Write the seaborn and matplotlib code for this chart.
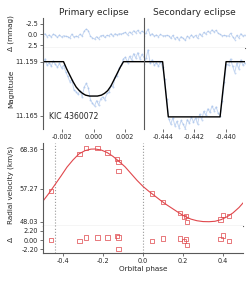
import numpy as np
import matplotlib
matplotlib.use("Agg")
import matplotlib.pyplot as plt
from matplotlib.ticker import FormatStrFormatter
import seaborn as sns

# ---- light curve: primary eclipse (mmag relative to 11.159) ----
prim_phase = np.linspace(-0.0032, 0.0032, 50)
prim_dmag = [0.2, -0.3, 0.4, 0.1, 0.5, -0.1, 0.3, 0.6, 0.2, 0.7,
             0.4, 1.1, 1.6, 2.2, 2.0, 3.1, 3.3, 3.6, 3.2, 3.9,
             2.8, 2.4, 2.9, 4.2, 4.6, 4.9, 4.3, 4.8, 4.1, 3.9,
             4.2, 3.5, 3.4, 2.6, 2.8, 1.7, 1.6, 0.7, 0.4, -0.3,
             -0.5, 0.1, -0.6, -0.2, -0.9, -0.4, -1.0, -0.3, -0.8, -0.5]
prim_resid = [0.3, -0.2, 0.5, 0.1, 0.6, -0.1, 0.2, 0.7, 0.1, 0.6,
              0.3, 0.4, 0.5, 0.8, -0.1, 0.6, 0.4, 0.5, -0.1, 0.4,
              -0.8, -1.3, -0.9, 0.4, 0.8, 1.1, 0.5, 1.0, 0.3, 0.2,
              0.7, 0.2, 0.3, -0.2, 0.4, -0.2, 0.1, -0.2, -0.1, -0.3,
              -0.5, 0.1, -0.6, -0.2, -0.9, -0.4, -1.0, -0.3, -0.8, -0.5]
prim_model_phase = [-0.0032, -0.0019, -0.0017, -0.0015, -0.0013, -0.0011,
                    -0.0009, -0.0007, -0.0005, -0.00025, 0.0, 0.00025,
                    0.0005, 0.0007, 0.0009, 0.0011, 0.0013, 0.0015,
                    0.0017, 0.0019, 0.0032]
prim_model_mag = [11.1590, 11.1590, 11.1598, 11.1605, 11.1612, 11.1618,
                  11.1622, 11.1625, 11.1627, 11.1628, 11.1628, 11.1628,
                  11.1627, 11.1625, 11.1622, 11.1617, 11.1610, 11.1603,
                  11.1596, 11.1590, 11.1590]

# ---- light curve: secondary eclipse ----
sec_phase = np.linspace(-0.4452, -0.4388, 50)
sec_dmag = [0.3, -0.4, -1.3, 0.2, -0.2, 0.4, 0.1, 0.5, 0.0, 0.6,
            1.9, 4.1, 6.3, 6.9, 6.2, 7.1, 6.6, 7.3, 6.5, 6.9,
            7.4, 6.4, 6.8, 6.1, 6.7, 6.2, 6.9, 5.8, 6.4, 5.5,
            5.9, 5.2, 5.6, 4.9, 5.4, 5.0, 5.7, 6.0, 4.3, 2.2,
            0.3, 0.4, -0.3, 0.5, 1.2, 0.2, 0.8, -0.2, 0.4, 0.1]
sec_resid = [0.3, -0.4, -1.3, 0.2, -0.2, 0.4, 0.1, 0.5, 0.0, 0.3,
             0.3, 0.2, 0.3, 0.9, 0.2, 1.1, 0.6, 1.3, 0.5, 0.9,
             1.4, 0.4, 0.8, 0.1, 0.7, 0.2, 0.9, -0.2, 0.4, -0.5,
             -0.1, -0.8, -0.4, -1.1, -0.6, -1.0, -0.3, 0.0, 0.3, 0.2,
             0.3, 0.4, -0.3, 0.5, 1.2, 0.2, 0.8, -0.2, 0.4, 0.1]
sec_model_phase = [-0.4452, -0.44402, -0.44366, -0.44038, -0.44000, -0.4388]
sec_model_mag = [11.1590, 11.1590, 11.1651, 11.1651, 11.1590, 11.1590]

# ---- radial velocities ----
rv_phase = [-0.459, -0.317, -0.286, -0.228, -0.177, -0.129, -0.122, -0.122,
            0.044, 0.099, 0.186, 0.206, 0.216, 0.220, 0.387, 0.401, 0.429]
rv_value = [56.70, 66.96, 68.64, 68.64, 67.33, 65.65, 64.72, 62.29,
            55.97, 53.62, 50.55, 49.43, 49.62, 48.03, 48.70, 49.99, 49.62]
rv_resid = [0.00, -0.17, 0.55, 0.55, 0.55, 0.95, 0.55, -2.07,
            -0.17, 0.40, 0.40, -0.17, 0.24, -1.12, 0.17, 1.02, -0.17]
rv_model_phase = [-0.50, -0.47, -0.44, -0.41, -0.38, -0.35, -0.32, -0.29,
                  -0.26, -0.24, -0.21, -0.18, -0.15, -0.12, -0.09, -0.06,
                  -0.03, 0.00, 0.03, 0.06, 0.09, 0.12, 0.15, 0.18, 0.21,
                  0.24, 0.27, 0.30, 0.33, 0.36, 0.39, 0.42, 0.45, 0.48, 0.51]
rv_model_value = [53.8, 56.0, 58.4, 60.8, 63.3, 65.3, 67.0, 67.9,
                  68.33, 68.36, 68.1, 67.4, 66.3, 64.9, 63.4, 61.5,
                  59.6, 57.9, 56.5, 55.2, 53.9, 52.7, 51.6, 50.5, 49.5,
                  48.75, 48.3, 48.07, 48.03, 48.15, 48.6, 49.4, 50.5, 52.0, 53.9]

eclipse_phases = [-0.442, 0.0]

sns.set_style("ticks")
plt.rcParams["font.family"] = ["DejaVu Sans"]

LC = "#9dbbe8"
RED = "#e0474c"
SPINE = "0.35"

fig = plt.figure(figsize=(2.49, 2.82), dpi=100)
W, H = 249.0, 282.0


def box(x0, y0, x1, y1):
    return [x0 / W, 1 - y1 / H, (x1 - x0) / W, (y1 - y0) / H]


ax_pr = fig.add_axes(box(43, 18, 144, 48))
ax_sr = fig.add_axes(box(144, 18, 245, 48))
ax_pm = fig.add_axes(box(43, 48, 144, 129))
ax_sm = fig.add_axes(box(144, 48, 245, 129))
ax_rv = fig.add_axes(box(43, 143, 243, 226))
ax_rr = fig.add_axes(box(43, 226, 243, 253))

prim_mag = 11.159 + np.array(prim_dmag) / 1000.0
sec_mag = 11.159 + np.array(sec_dmag) / 1000.0

# residuals of the light curve
for ax, ph, res in [(ax_pr, prim_phase, prim_resid), (ax_sr, sec_phase, sec_resid)]:
    sns.lineplot(x=ph, y=res, ax=ax, color=LC, lw=0.7, alpha=0.6,
                 marker="o", markersize=1.2, markeredgewidth=0)
    ax.set_ylim(3.2, -3.9)

# magnitudes
sns.lineplot(x=prim_phase, y=prim_mag, ax=ax_pm, color=LC, lw=0.7, alpha=0.6,
             marker="o", markersize=1.4, markeredgewidth=0)
sns.lineplot(x=prim_model_phase, y=prim_model_mag, ax=ax_pm, color="k", lw=1.0)
sns.lineplot(x=sec_phase, y=sec_mag, ax=ax_sm, color=LC, lw=0.7, alpha=0.6,
             marker="o", markersize=1.4, markeredgewidth=0)
sns.lineplot(x=sec_model_phase, y=sec_model_mag, ax=ax_sm, color="k", lw=1.0)
for ax in (ax_pm, ax_sm):
    ax.set_ylim(11.16644, 11.15749)

ax_pr.set_xlim(-0.0032, 0.0032)
ax_pm.set_xlim(-0.0032, 0.0032)
ax_sr.set_xlim(-0.4452, -0.4388)
ax_sm.set_xlim(-0.4452, -0.4388)

ax_pr.set_title("Primary eclipse", fontsize=6.5, pad=2)
ax_sr.set_title("Secondary eclipse", fontsize=6.5, pad=2)
ax_pm.text(0.06, 0.16, "KIC 4360072", transform=ax_pm.transAxes,
           fontsize=5.6, va="center", ha="left")

# radial velocities
sns.lineplot(x=rv_model_phase, y=rv_model_value, ax=ax_rv, color=RED, lw=0.8)
sns.scatterplot(x=rv_phase, y=rv_value, ax=ax_rv, marker="s", s=10,
                facecolors="none", edgecolors=RED, linewidths=0.6, alpha=0.85)
sns.scatterplot(x=rv_phase, y=rv_resid, ax=ax_rr, marker="s", s=10,
                facecolors="none", edgecolors=RED, linewidths=0.6, alpha=0.85)
for ax in (ax_rv, ax_rr):
    for p in eclipse_phases:
        ax.axvline(p, color="0.6", lw=0.8, ls=":", zorder=0)
    ax.set_xlim(-0.5, 0.5)
ax_rv.set_ylim(46.83, 70.04)
ax_rr.set_ylim(-3.07, 3.31)

# ticks / spines
for ax in (ax_pr, ax_sr, ax_pm, ax_sm, ax_rv, ax_rr):
    for s in ax.spines.values():
        s.set_visible(False)
    ax.spines["left"].set_visible(True)
    ax.spines["left"].set_color(SPINE)
    ax.spines["left"].set_linewidth(0.8)
    ax.tick_params(labelsize=4.7, length=2, width=0.6, pad=1.5, color=SPINE)
    ax.set_xlabel("")
    ax.set_ylabel("")

for ax in (ax_pr, ax_sr, ax_rv, ax_rr):
    ax.spines["bottom"].set_visible(True)
    ax.spines["bottom"].set_color(SPINE)
    ax.spines["bottom"].set_linewidth(0.8)

for ax in (ax_pr, ax_sr, ax_rv):
    ax.tick_params(bottom=False, labelbottom=False)

ax_pr.set_yticks([-2.5, 0.0, 2.5])
ax_pr.yaxis.set_major_formatter(FormatStrFormatter("%.1f"))
ax_sr.set_yticks([-2.5, 0.0, 2.5])
ax_sr.tick_params(left=False, labelleft=False)

ax_pm.set_yticks([11.159, 11.165])
ax_pm.yaxis.set_major_formatter(FormatStrFormatter("%.3f"))
ax_sm.set_yticks([11.159, 11.165])
ax_sm.tick_params(left=False, labelleft=False)

ax_pm.set_xticks([-0.002, 0.0, 0.002])
ax_pm.xaxis.set_major_formatter(FormatStrFormatter("%.3f"))
ax_sm.set_xticks([-0.444, -0.442, -0.440])
ax_sm.xaxis.set_major_formatter(FormatStrFormatter("%.3f"))

ax_rv.set_yticks([48.03, 57.27, 68.36])
ax_rv.yaxis.set_major_formatter(FormatStrFormatter("%.2f"))
ax_rr.set_yticks([-2.2, 0.0, 2.2])
ax_rr.yaxis.set_major_formatter(FormatStrFormatter("%.2f"))
ax_rr.set_xticks([-0.4, -0.2, 0.0, 0.2, 0.4])
ax_rr.xaxis.set_major_formatter(FormatStrFormatter("%.1f"))

lab = 5.2
ax_pr.set_ylabel("Δ (mmag)", fontsize=lab)
ax_pm.set_ylabel("Magnitude", fontsize=lab)
ax_rv.set_ylabel("Radial velocity (km/s)", fontsize=lab)
ax_rr.set_ylabel("Δ", fontsize=lab)
ax_rr.set_xlabel("Orbital phase", fontsize=lab, labelpad=1.5)
for ax in (ax_pr, ax_pm):
    ax.yaxis.set_label_coords(-0.287, 0.5)
for ax in (ax_rv, ax_rr):
    ax.yaxis.set_label_coords(-0.145, 0.5)

fig.savefig("out.png", dpi=100)
